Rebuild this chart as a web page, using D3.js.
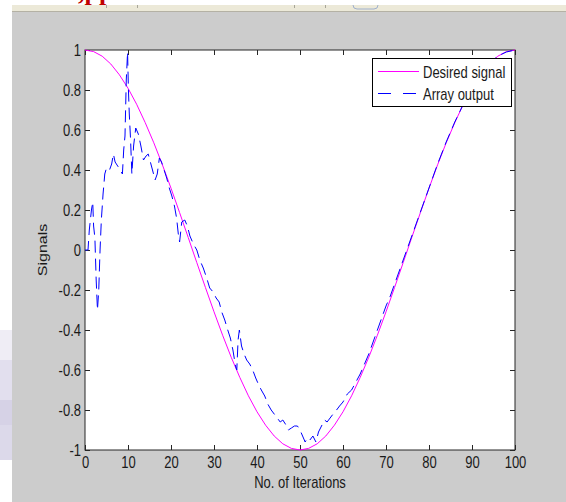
<!DOCTYPE html>
<html>
<head>
<meta charset="utf-8">
<script src="https://cdn.jsdelivr.net/npm/d3@7"></script>
<style>
  body { margin: 0; background: #ffffff; }
  svg { display: block; }
</style>
</head>
<body>
<div id="chart"></div>
<script>
// Data
let xTicks = [0, 10, 20, 30, 40, 50, 60, 70, 80, 90, 100];
let yTicks = [-1, -0.8, -0.6, -0.4, -0.2, 0, 0.2, 0.4, 0.6, 0.8, 1];

let desiredIter = [0, 2, 4, 6, 8, 10, 12, 14, 16, 18, 20, 22, 24, 26, 28, 30, 32, 34, 36, 38, 40,
	42, 44, 46, 48, 50, 52, 54, 56, 58, 60, 62, 64, 66, 68, 70, 72, 74, 76, 78, 80,
	82, 84, 86, 88, 90, 92, 94, 96, 98, 100];
let desiredSignal = [1, 0.992, 0.969, 0.930, 0.876, 0.809, 0.729, 0.637, 0.536, 0.426, 0.309,
	0.187, 0.063, -0.063, -0.187, -0.309, -0.426, -0.536, -0.637, -0.729, -0.809,
	-0.876, -0.930, -0.969, -0.992, -1, -0.992, -0.969, -0.930, -0.876, -0.809,
	-0.729, -0.637, -0.536, -0.426, -0.309, -0.187, -0.063, 0.063, 0.187, 0.309,
	0.426, 0.536, 0.637, 0.729, 0.809, 0.876, 0.930, 0.969, 0.992, 1];

let arrayIter = [0, 0.7, 1.0, 1.5, 1.8, 2.0, 2.3, 2.6, 2.9, 3.2, 3.5, 3.8, 4.2, 4.6, 5.0, 5.7, 6.2, 6.6,
	7.0, 7.6, 8.2, 8.7, 9.0, 9.3, 9.6, 9.9, 10.1, 10.3, 10.6, 10.9, 11.3, 11.8, 12.4, 13.0,
	13.6, 14.2, 14.7, 15.2, 15.7, 16.3, 16.8, 17.3, 17.8, 18.4, 19.0, 19.6, 20.2, 20.8,
	21.3, 21.7, 22.0, 22.5, 23.2, 23.8, 24.4, 25.2, 26.0, 26.7, 27.5, 28.3, 29.0, 29.8,
	30.5, 31.2, 31.8, 32.5, 33.2, 33.8, 34.4, 35.0, 35.3, 35.6, 35.9, 36.4, 37.0, 37.6,
	38.3, 39.0, 39.7, 40.3, 41.0, 41.8, 42.5, 43.3, 44.0, 44.7, 45.4, 46.0, 46.6, 47.3,
	48.0, 48.7, 49.4, 50.0, 50.6, 51.2, 51.7, 52.3, 53.0, 53.7, 54.3, 55.0, 55.7, 56.3,
	57.0, 57.7, 58.5, 59.2, 60, 61, 62, 63, 64, 65, 66, 67, 68, 69, 70, 71, 72, 73, 74,
	75, 76, 77, 78, 79, 80, 82, 84, 86, 88, 90, 92, 94, 96, 98, 100];
let arrayOutput = [0, 0, 0.1, 0.2, 0.24, 0.12, 0.06, -0.15, -0.30, -0.20, 0, 0.15, 0.28, 0.38, 0.41,
	0.40, 0.43, 0.48, 0.44, 0.42, 0.40, 0.38, 0.50, 0.57, 0.85, 0.99, 0.80, 0.68, 0.55, 0.38,
	0.52, 0.61, 0.58, 0.52, 0.45, 0.47, 0.48, 0.44, 0.40, 0.35, 0.38, 0.46, 0.44, 0.40,
	0.36, 0.31, 0.27, 0.22, 0.16, 0.08, 0.04, 0.14, 0.15, 0.12, 0.07, 0.03, 0.00, -0.05,
	-0.09, -0.14, -0.19, -0.21, -0.24, -0.26, -0.31, -0.35, -0.40, -0.44, -0.50, -0.58,
	-0.60, -0.45, -0.40, -0.48, -0.52, -0.55, -0.57, -0.60, -0.64, -0.67, -0.70, -0.73,
	-0.77, -0.80, -0.82, -0.84, -0.86, -0.85, -0.87, -0.90, -0.89, -0.88, -0.88, -0.90,
	-0.93, -0.96, -0.94, -0.95, -0.93, -0.96, -0.91, -0.88, -0.85, -0.86, -0.84, -0.82,
	-0.80, -0.78, -0.76, -0.72, -0.70, -0.66, -0.62, -0.57, -0.52, -0.46, -0.40, -0.34,
	-0.28, -0.23, -0.17, -0.11, -0.05, 0.01, 0.07, 0.13, 0.19, 0.25, 0.31, 0.43, 0.54,
	0.64, 0.73, 0.81, 0.88, 0.93, 0.97, 0.99, 1.0];

let seriesNames = ['Desired signal', 'Array output'];

// Set up SVG
let width = 566;
let height = 502;
let font = 'Liberation Sans, Arial, sans-serif';
let stretch = 'scale(1,1.23)';

let svg = d3.select('#chart')
	.append('svg')
	.attr('width', width)
	.attr('height', height);

// window background bits
svg.append('rect').attr('width', width).attr('height', height).attr('fill', '#ffffff');

svg.append('text')
	.attr('x', 78)
	.attr('y', 0)
	.attr('font-family', 'Liberation Serif, serif')
	.attr('font-weight', 'bold')
	.attr('font-size', 26)
	.attr('fill', '#c00000')
	.text(',pp');

svg.append('rect').attr('x', 12).attr('y', 5).attr('width', width - 12).attr('height', 6).attr('fill', '#ece9d8');
svg.append('rect').attr('x', 12).attr('y', 11).attr('width', width - 12).attr('height', 1).attr('fill', '#b4b1a4');
[106, 137, 294, 325].forEach(function(px){
	svg.append('rect').attr('x', px).attr('y', 5).attr('width', 1).attr('height', 3).attr('fill', '#a8a699');
});
svg.append('path')
	.attr('d', 'M353,5 Q353,9 357,9 L374,9 Q378,9 378,5')
	.attr('fill', 'none')
	.attr('stroke', '#9fb0cc');

svg.append('rect').attr('x', 12).attr('y', 12).attr('width', width - 12).attr('height', height - 12).attr('fill', '#cccccc');

// faded patches on the left edge
let patches = [[330, 30, '#efedf5'], [360, 40, '#e2dfee'], [400, 25, '#d6d2e6'], [425, 35, '#dcd9ea']];
patches.forEach(function(p){
	svg.append('rect').attr('x', 0).attr('y', p[0]).attr('width', 12).attr('height', p[1]).attr('fill', p[2]);
});

// Scales
let x = d3.scaleLinear().domain([0, 100]).range([85, 515]);
let y = d3.scaleLinear().domain([-1, 1]).range([450, 50]);

let fmt = function(d){ let v = +d.toFixed(1); return v === 0 ? '0' : String(v); };

svg.append('rect')
	.attr('x', x(0))
	.attr('y', y(1))
	.attr('width', x(100) - x(0))
	.attr('height', y(-1) - y(1))
	.attr('fill', '#ffffff')
	.attr('stroke', '#262626')
	.attr('stroke-width', 1);

// Axes, ticks pointing in
let axBottom = svg.append('g')
	.attr('transform', 'translate(0,' + y(-1) + ')')
	.call(d3.axisBottom(x).tickValues(xTicks).tickFormat(fmt).tickSizeInner(-5).tickSizeOuter(0));
let axTop = svg.append('g')
	.attr('transform', 'translate(0,' + y(1) + ')')
	.call(d3.axisTop(x).tickValues(xTicks).tickFormat('').tickSizeInner(-5).tickSizeOuter(0));
let axLeft = svg.append('g')
	.attr('transform', 'translate(' + x(0) + ',0)')
	.call(d3.axisLeft(y).tickValues(yTicks).tickFormat(fmt).tickSizeInner(-5).tickSizeOuter(0));
let axRight = svg.append('g')
	.attr('transform', 'translate(' + x(100) + ',0)')
	.call(d3.axisRight(y).tickValues(yTicks).tickFormat('').tickSizeInner(-5).tickSizeOuter(0));

[axBottom, axTop, axLeft, axRight].forEach(function(a){
	a.select('.domain').remove();
	a.selectAll('.tick line').attr('stroke', '#262626');
});

axBottom.selectAll('.tick text')
	.attr('y', null).attr('dy', null)
	.attr('transform', 'translate(0,18) ' + stretch)
	.attr('font-family', font).attr('font-size', 13).attr('fill', '#1a1a1a');
axLeft.selectAll('.tick text')
	.attr('x', null).attr('dy', null)
	.attr('y', 4.6)
	.attr('transform', 'translate(-4,0) ' + stretch)
	.attr('font-family', font).attr('font-size', 13).attr('fill', '#1a1a1a');

// Axis titles
svg.append('text')
	.attr('transform', 'translate(300,488) ' + stretch)
	.attr('text-anchor', 'middle')
	.attr('font-family', font).attr('font-size', 13).attr('fill', '#1a1a1a')
	.text('No. of Iterations');
svg.append('text')
	.attr('transform', 'translate(47,250) ' + stretch + ' rotate(-90)')
	.attr('text-anchor', 'middle')
	.attr('font-family', font).attr('font-size', 13).attr('fill', '#1a1a1a')
	.text('Signals');

// Lines
let desired = desiredIter.map(function(d, i){ return [d, desiredSignal[i]]; });
let output = arrayIter.map(function(d, i){ return [d, arrayOutput[i]]; });
let line = d3.line().x(function(d){ return x(d[0]); }).y(function(d){ return y(d[1]); });

svg.append('path')
	.attr('d', line(desired))
	.attr('fill', 'none')
	.attr('stroke', '#ff00ff')
	.attr('stroke-width', 1);
svg.append('path')
	.attr('d', line(output))
	.attr('fill', 'none')
	.attr('stroke', '#0000ff')
	.attr('stroke-width', 1)
	.attr('stroke-dasharray', '12,6');

// Legend
let lg = svg.append('g');
lg.append('rect')
	.attr('x', 372.5).attr('y', 58.5)
	.attr('width', 139).attr('height', 48)
	.attr('fill', '#ffffff')
	.attr('stroke', '#000000');
let legendStyles = [['#ff00ff', null], ['#0000ff', '13,12']];
for(let i = 0; i < seriesNames.length; i++){
	lg.append('line')
		.attr('x1', 378).attr('x2', 419)
		.attr('y1', 71.5 + i * 22).attr('y2', 71.5 + i * 22)
		.attr('stroke', legendStyles[i][0])
		.attr('stroke-dasharray', legendStyles[i][1]);
	lg.append('text')
		.attr('transform', 'translate(423,' + (77.5 + i * 22) + ') ' + stretch)
		.attr('font-family', font).attr('font-size', 13).attr('fill', '#1a1a1a')
		.text(seriesNames[i]);
}
</script>
</body>
</html>
